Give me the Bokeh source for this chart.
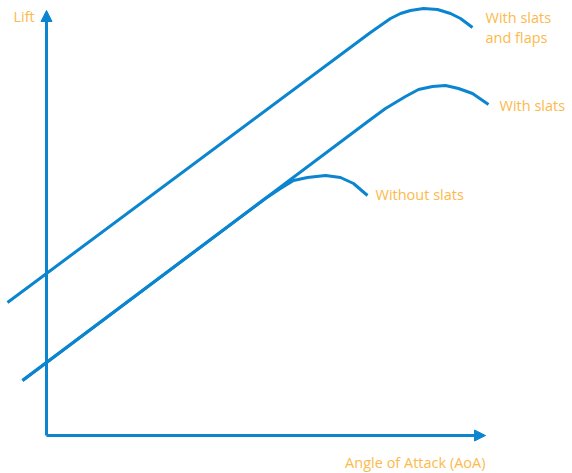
from bokeh.plotting import figure
from bokeh.models import Range1d, Arrow, NormalHead
from bokeh.core.properties import value
from bokeh.embed import file_html
from bokeh.resources import INLINE

# Data (AoA units, lift units)
flaps_x = [-39, 324, 334, 344, 354, 364, 377, 391, 404, 414, 426]
flaps_y = [133, 403, 410, 417, 422, 425, 427, 426, 422, 417, 408]

slats_x = [-24, 324, 339, 349, 359, 372, 386, 399, 412, 426, 442]
slats_y = [55, 316, 327, 333, 339, 346, 349, 350, 347, 342, 331]

noslats_x = [-24, 219, 234, 247, 261, 279, 294, 307, 321]
noslats_y = [55, 237, 247, 255, 258, 260, 258, 252, 240]

labels = ["Lift", "With slats", "and flaps", "With slats", "Without slats"]
label_x = [-33, 439, 439, 453, 329]
label_y = [419, 418, 398, 330, 241]

xlabel = "Angle of Attack (AoA)"

BLUE = "#0B85CF"
ORANGE = "#FDB94C"

p = figure(width=572, height=473, output_backend="svg", toolbar_location=None,
           x_range=Range1d(-46, 526), y_range=Range1d(-38, 435),
           min_border=0)
p.axis.visible = False
p.grid.visible = False
p.outline_line_color = None
p.background_fill_color = "white"

# axes with arrows
p.add_layout(Arrow(x_start=0, y_start=0, x_end=0, y_end=425, line_color=BLUE, line_width=3,
                   end=NormalHead(size=11, fill_color=BLUE, line_color=BLUE)))
p.add_layout(Arrow(x_start=0, y_start=0, x_end=439, y_end=0, line_color=BLUE, line_width=3,
                   end=NormalHead(size=11, fill_color=BLUE, line_color=BLUE)))

p.line(flaps_x, flaps_y, line_color=BLUE, line_width=3, line_join="round")
p.line(slats_x, slats_y, line_color=BLUE, line_width=3, line_join="round")
p.line(noslats_x, noslats_y, line_color=BLUE, line_width=3, line_join="round")

p.text(x=label_x, y=label_y, text=labels, text_color=ORANGE, text_font=value("Open Sans"),
       text_font_size="14.5px", text_baseline="middle", text_align="left")
p.text(x=[439], y=[-27], text=[xlabel], text_color=ORANGE, text_font=value("Open Sans"),
       text_font_size="14.5px", text_baseline="middle", text_align="right")

open("out.html", "w").write(file_html(p, INLINE))
